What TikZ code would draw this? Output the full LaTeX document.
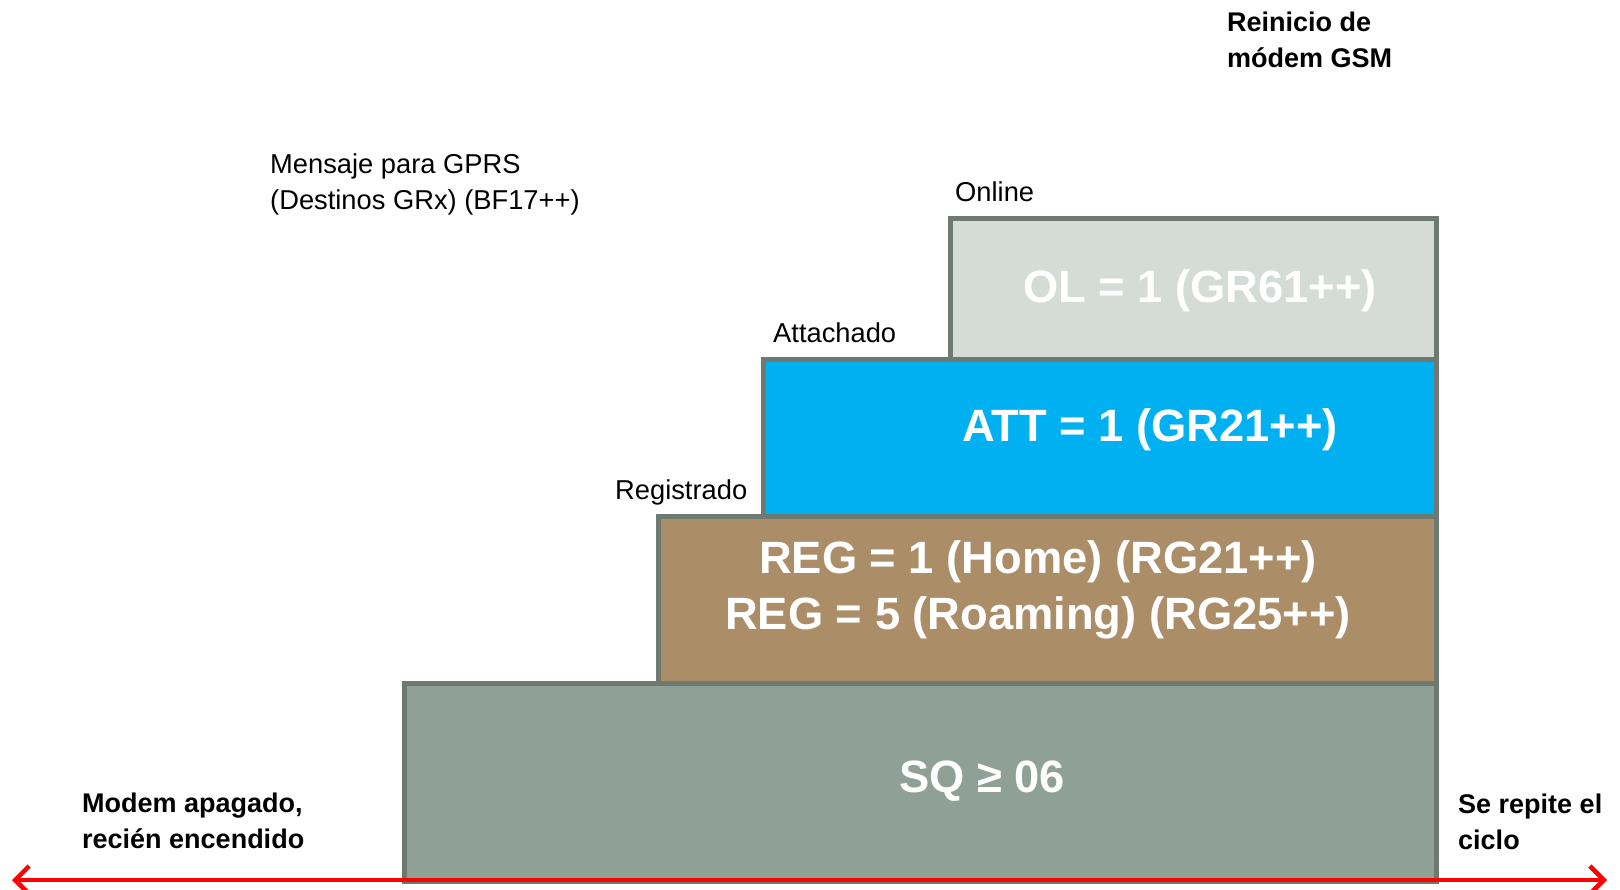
\documentclass[tikz,border=0pt]{standalone}
\usepackage{fontspec}
\setmainfont{Liberation Sans}
\usetikzlibrary{arrows.meta}
\definecolor{edgegray}{HTML}{6E7A71}
\definecolor{sqgreen}{HTML}{8FA196}
\definecolor{regbrown}{HTML}{AB8D67}
\definecolor{attblue}{HTML}{00B0F0}
\definecolor{olgray}{HTML}{D5DCD7}
\def\stagebox{\node[draw=edgegray,line width=5pt,inner sep=0pt,anchor=north west]}

\begin{document}
\begin{tikzpicture}[x=1pt,y=-1pt,
  small/.style={anchor=base west,inner sep=0pt,align=left,font=\fontsize{27.3}{36}\selectfont},
  note/.style={small,font=\bfseries\fontsize{27}{36}\selectfont},
  big/.style={anchor=base,inner sep=0pt,align=center,text=white,font=\bfseries\fontsize{45.3}{56}\selectfont}]
\useasboundingbox (0,0) rectangle (1620,889);
\stagebox[fill=sqgreen,minimum width=1032pt,minimum height=198pt] (sq) at (402,681) {};
\stagebox[fill=regbrown,minimum width=778pt,minimum height=167pt] (reg) at (656,514) {};
\stagebox[fill=attblue,minimum width=673pt,minimum height=157pt] (att) at (761,357) {};
\stagebox[fill=olgray,minimum width=486pt,minimum height=141pt] (ol) at (948,216) {};
\node[big] (sqtext) at (982,792) {SQ ≥ 06};
\node[big] (regtext) at (1038,629) {REG = 1 (Home) (RG21++)\\REG = 5 (Roaming) (RG25++)};
\node[big] (atttext) at (1150,441) {ATT = 1 (GR21++)};
\node[big] (oltext) at (1200,302) {OL = 1 (GR61++)};
\node[small] (online) at (955,201) {Online};
\node[small] (attachado) at (773,342) {Attachado};
\node[small] (registrado) at (615,499) {Registrado};
\node[small] (mensaje) at (270,209) {Mensaje para GPRS\\(Destinos GRx) (BF17++)};
\node[note] (reinicio) at (1227,67) {Reinicio de\\módem GSM};
\node[note] (apagado) at (82,848) {Modem apagado,\\recién encendido};
\node[note] (repite) at (1458,849) {Se repite el\\ciclo};
\coordinate (inicio) at (12,880);
\coordinate (fin) at (1607,880);
\draw[red,line width=4.5pt,{Straight Barb[length=14pt,width=28pt]}-{Straight Barb[length=14pt,width=28pt]}] (inicio) -- (fin);
\end{tikzpicture}
\end{document}
